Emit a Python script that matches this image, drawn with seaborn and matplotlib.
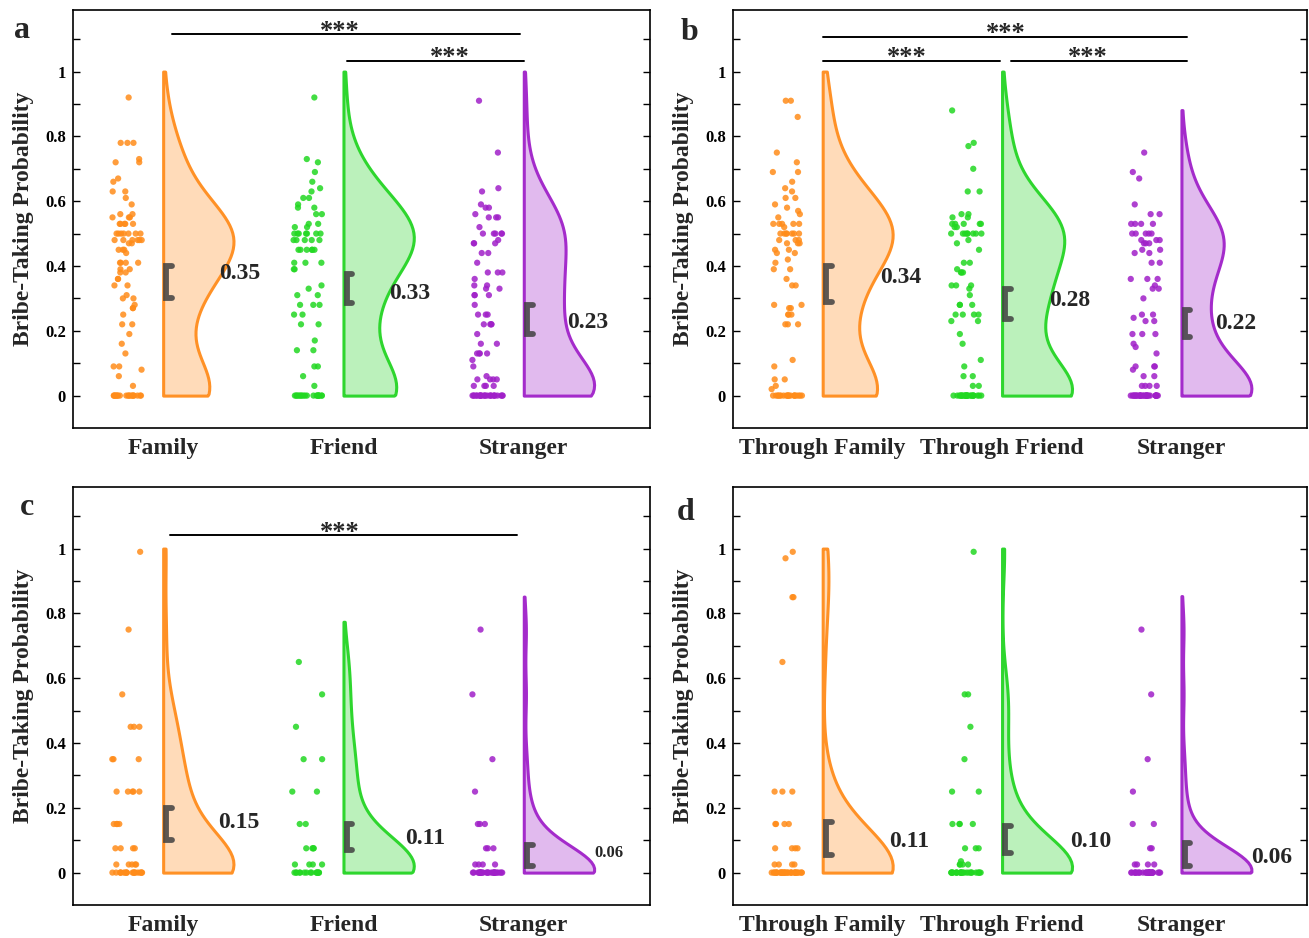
import numpy as np
import pandas as pd
import matplotlib
matplotlib.use("Agg")
import matplotlib.pyplot as plt
import seaborn as sns
from matplotlib.ticker import FixedLocator
from matplotlib.colors import to_rgba

# ---------------- data ----------------
groups_ac = ["Family", "Friend", "Stranger"]
groups_bd = ["Through Family", "Through Friend", "Stranger"]

a_family = ([0.92] + [0.78] * 3 + [0.73, 0.72, 0.72, 0.67, 0.66, 0.63, 0.63, 0.61, 0.59,
            0.56, 0.56, 0.55, 0.55, 0.55] + [0.53] * 5 + [0.50] * 7 + [0.48] * 6 + [0.47] * 2
            + [0.45] * 3 + [0.44] + [0.41] * 4 + [0.39] * 2 + [0.38] * 2 + [0.36] * 2 + [0.34] * 2
            + [0.31, 0.30, 0.30, 0.28, 0.27, 0.27, 0.25, 0.22, 0.22, 0.19, 0.16, 0.13, 0.09, 0.09,
               0.08, 0.06, 0.03] + [0.0] * 19)
a_friend = ([0.92, 0.73, 0.72, 0.69, 0.66, 0.64, 0.63, 0.61, 0.61, 0.59, 0.58, 0.58, 0.56, 0.56,
             0.53, 0.53, 0.52, 0.52] + [0.50] * 7 + [0.48] * 5 + [0.45] * 6 + [0.41] * 3 + [0.39] * 2
            + [0.34, 0.33, 0.31, 0.31, 0.28, 0.28, 0.28, 0.25, 0.25, 0.22, 0.22, 0.17, 0.14, 0.14,
               0.09, 0.09, 0.06, 0.03] + [0.0] * 19)
a_stranger = ([0.91, 0.75, 0.64, 0.63, 0.59, 0.58, 0.58, 0.56, 0.55, 0.55, 0.55, 0.52] + [0.50] * 5
              + [0.48, 0.47, 0.47, 0.47, 0.44, 0.44, 0.41, 0.38, 0.38, 0.38, 0.36, 0.34, 0.34, 0.33,
                 0.33, 0.31, 0.31, 0.31, 0.28, 0.25, 0.25, 0.25] + [0.22] * 4 + [0.19, 0.16, 0.16]
              + [0.13] * 4 + [0.11, 0.09, 0.06, 0.05, 0.05, 0.05, 0.05, 0.03, 0.03, 0.03, 0.03]
              + [0.0] * 24)

b_tfamily = ([0.91, 0.91, 0.86, 0.75, 0.72, 0.69, 0.69, 0.66, 0.64, 0.63, 0.61, 0.61, 0.59, 0.58,
              0.57, 0.56, 0.55] + [0.53] * 5 + [0.52] + [0.50] * 7 + [0.48] * 3 + [0.47] * 3
             + [0.45, 0.45, 0.44, 0.44, 0.42, 0.41, 0.39, 0.39, 0.36, 0.34, 0.34, 0.28, 0.28, 0.27,
                0.27, 0.25, 0.25, 0.25, 0.22, 0.22, 0.22, 0.11, 0.09, 0.05, 0.05, 0.03, 0.02]
             + [0.0] * 20)
b_tfriend = ([0.88, 0.78, 0.77, 0.70, 0.63, 0.63, 0.56, 0.56, 0.55, 0.55] + [0.53] * 5 + [0.52, 0.52]
             + [0.50] * 8 + [0.48, 0.47, 0.45, 0.41, 0.41, 0.39, 0.38, 0.38, 0.38, 0.34, 0.34, 0.34,
                             0.33, 0.31, 0.28, 0.28, 0.28] + [0.25] * 4
             + [0.23, 0.23, 0.19, 0.16, 0.11, 0.09, 0.06, 0.06, 0.03, 0.03] + [0.0] * 25)
b_stranger = ([0.75, 0.69, 0.67, 0.59, 0.56, 0.56] + [0.53] * 4 + [0.50] * 5 + [0.48] * 3 + [0.47] * 3
              + [0.45, 0.45, 0.44, 0.44, 0.41, 0.41, 0.36, 0.36, 0.36, 0.34, 0.33, 0.33, 0.30, 0.25,
                 0.25, 0.24, 0.23, 0.23, 0.19, 0.19, 0.19, 0.16, 0.15, 0.13, 0.09, 0.09, 0.09, 0.08,
                 0.06, 0.06, 0.03, 0.03, 0.03, 0.03] + [0.0] * 30)

c_family = ([0.99, 0.75, 0.55, 0.45, 0.45, 0.45, 0.35, 0.35, 0.35] + [0.25] * 5 + [0.15] * 4
            + [0.075] * 4 + [0.025] * 5 + [0.0] * 20)
c_friend = ([0.65, 0.55, 0.45, 0.35, 0.35, 0.25, 0.25, 0.15, 0.15] + [0.075] * 4 + [0.025] * 4
            + [0.0] * 15)
c_stranger = ([0.75, 0.55, 0.35, 0.25, 0.15, 0.15, 0.15, 0.075, 0.075, 0.075] + [0.025] * 4
              + [0.0] * 28)

d_tfamily = ([0.99, 0.97, 0.85, 0.85, 0.65, 0.25, 0.25, 0.25] + [0.15] * 4 + [0.075] * 4
             + [0.025] * 4 + [0.0] * 33)
d_tfriend = ([0.99, 0.55, 0.55, 0.45, 0.35, 0.25, 0.25] + [0.15] * 4 + [0.075] * 3 + [0.035]
             + [0.025] * 4 + [0.0] * 25)
d_stranger = ([0.75, 0.55, 0.35, 0.25, 0.15, 0.15, 0.075, 0.075] + [0.025] * 4 + [0.0] * 29)

# mean labels and confidence brackets (lower, upper)
a_means = ["0.35", "0.33", "0.23"]
b_means = ["0.34", "0.28", "0.22"]
c_means = ["0.15", "0.11", "0.06"]
d_means = ["0.11", "0.10", "0.06"]
a_ci_low, a_ci_high = [0.30, 0.285, 0.19], [0.40, 0.375, 0.28]
b_ci_low, b_ci_high = [0.29, 0.235, 0.18], [0.40, 0.33, 0.265]
c_ci_low, c_ci_high = [0.10, 0.07, 0.02], [0.20, 0.15, 0.085]
d_ci_low, d_ci_high = [0.055, 0.06, 0.02], [0.155, 0.145, 0.09]

# ---------------- style ----------------
sns.set_style("white")
plt.rcParams["font.family"] = ["Liberation Serif", "DejaVu Serif"]
plt.rcParams["mathtext.fontset"] = "stix"

line_cols = ["#FF9126", "#2ED62E", "#A42BCB"]
dot_cols = ["#FF8C1A", "#22D822", "#A020C8"]
FILL_ALPHA = 0.32

fig = plt.figure(figsize=(13.09, 9.38), dpi=100)
W, H = 1309, 938
pos = {
    "a": [73 / W, 1 - 428 / H, 577 / W, 418 / H],
    "b": [733 / W, 1 - 428 / H, 574 / W, 418 / H],
    "c": [73 / W, 1 - 905 / H, 577 / W, 418 / H],
    "d": [733 / W, 1 - 905 / H, 574 / W, 418 / H],
}

panels = {
    "a": dict(groups=groups_ac, vals=[a_family, a_friend, a_stranger], means=a_means,
              lo=a_ci_low, hi=a_ci_high,
              lab_dx=[0.31, 0.255, 0.24], lab_y=[0.378, 0.316, 0.226], lab_fs=[17, 17, 17],
              sig=[(0.05, 1.98, 1.115, 0.98), (1.02, 2.0, 1.034, 1.59)],
              letter=(-0.088, 0.952)),
    "b": dict(groups=groups_bd, vals=[b_tfamily, b_tfriend, b_stranger], means=b_means,
              lo=b_ci_low, hi=b_ci_high,
              lab_dx=[0.32, 0.26, 0.19], lab_y=[0.365, 0.294, 0.223], lab_fs=[17, 17, 17],
              sig=[(0.0, 2.03, 1.108, 1.02), (0.0, 0.99, 1.034, 0.47), (1.05, 2.03, 1.034, 1.48)],
              letter=(-0.075, 0.945)),
    "c": dict(groups=groups_ac, vals=[c_family, c_friend, c_stranger], means=c_means,
              lo=c_ci_low, hi=c_ci_high,
              lab_dx=[0.305, 0.34, 0.39], lab_y=[0.155, 0.106, 0.059], lab_fs=[17, 17, 12],
              sig=[(0.04, 1.96, 1.043, 0.98)],
              letter=(-0.08, 0.95)),
    "d": dict(groups=groups_bd, vals=[d_tfamily, d_tfriend, d_stranger], means=d_means,
              lo=d_ci_low, hi=d_ci_high,
              lab_dx=[0.37, 0.38, 0.39], lab_y=[0.096, 0.096, 0.047], lab_fs=[17, 17, 17],
              sig=[],
              letter=(-0.082, 0.938)),
}

np.random.seed(3)

for key, p in panels.items():
    ax = fig.add_axes(pos[key])
    groups = p["groups"]
    df = pd.DataFrame({
        "group": np.repeat(groups, [len(v) for v in p["vals"]]),
        "value": np.concatenate([np.asarray(v, float) for v in p["vals"]]),
    })

    # jittered raw points, shifted to the left of each category
    n0 = len(ax.collections)
    sns.stripplot(data=df, x="group", y="value", hue="group", order=groups, hue_order=groups,
                  palette=dict(zip(groups, dot_cols)), jitter=0.085, size=4.5, alpha=0.85,
                  linewidth=0, legend=False, ax=ax, zorder=3)
    for coll in ax.collections[n0:]:
        off = np.asarray(coll.get_offsets()).copy()
        off[:, 0] -= 0.2
        coll.set_offsets(off)

    # half violins
    n1 = len(ax.collections)
    sns.violinplot(data=df, x="group", y="value", hue="group", order=groups, hue_order=groups,
                   palette=dict(zip(groups, line_cols)), inner=None, cut=1.4,
                   density_norm="width", width=0.78, linewidth=2.2, saturation=1,
                   legend=False, ax=ax)
    for coll in ax.collections[n1:]:
        paths = coll.get_paths()
        if not paths:
            continue
        v = paths[0].vertices.copy()
        center = np.round(v[:, 0].mean())
        ci = int(center)
        v[:, 0] = np.maximum(v[:, 0], center)
        v[:, 1] = np.clip(v[:, 1], 0, 1)
        coll.set_verts([v])
        coll.set_facecolor(to_rgba(line_cols[ci], FILL_ALPHA))
        coll.set_edgecolor(line_cols[ci])
        coll.set_linewidth(2.2)
        coll.set_zorder(2)

    # confidence brackets and mean labels
    for i in range(3):
        lo, hi = p["lo"][i], p["hi"][i]
        ax.plot([i + 0.05, i + 0.018, i + 0.018, i + 0.05], [hi, hi, lo, lo],
                color="#404040", alpha=0.85, lw=4.2, solid_capstyle="round",
                solid_joinstyle="miter", zorder=5)
        ax.text(i + p["lab_dx"][i], p["lab_y"][i], p["means"][i], ha="left", va="center",
                fontsize=p["lab_fs"][i], fontweight="bold", zorder=6)

    # significance bars
    for x0, x1, y, xs in p["sig"]:
        ax.plot([x0, x1], [y, y], color="black", lw=1.4, clip_on=False, zorder=6)
        ax.text(xs, y - 0.012, "***", ha="center", va="baseline", fontsize=19,
                fontweight="bold", zorder=6)

    # axes styling
    ax.set_xlim(-0.5, 2.7)
    ax.set_ylim(-0.1, 1.19)
    ax.yaxis.set_major_locator(FixedLocator([0, 0.2, 0.4, 0.6, 0.8, 1.0]))
    ax.set_yticklabels(["0", "0.2", "0.4", "0.6", "0.8", "1"], fontweight="bold")
    ax.yaxis.set_minor_locator(FixedLocator([0.1, 0.3, 0.5, 0.7, 0.9, 1.1]))
    ax.tick_params(axis="y", which="both", direction="in", left=True, right=True,
                   length=5, width=1.0, labelsize=12, pad=5, colors="black")
    ax.set_xticks([0, 1, 2])
    ax.set_xticklabels(groups, fontsize=17, fontweight="bold")
    ax.tick_params(axis="x", which="both", length=0, pad=7, bottom=False, top=False)
    ax.set_xlabel("")
    ax.set_ylabel("Bribe-Taking Probability", fontsize=17, fontweight="bold")
    ax.yaxis.set_label_coords(-0.068, 0.5)
    for sp in ax.spines.values():
        sp.set_visible(True)
        sp.set_color("black")
        sp.set_linewidth(1.2)
    ax.grid(False)
    lx, ly = p["letter"]
    ax.text(lx, ly, key, transform=ax.transAxes, ha="center", va="center",
            fontsize=23, fontweight="bold")

fig.savefig("out.png", dpi=100)
